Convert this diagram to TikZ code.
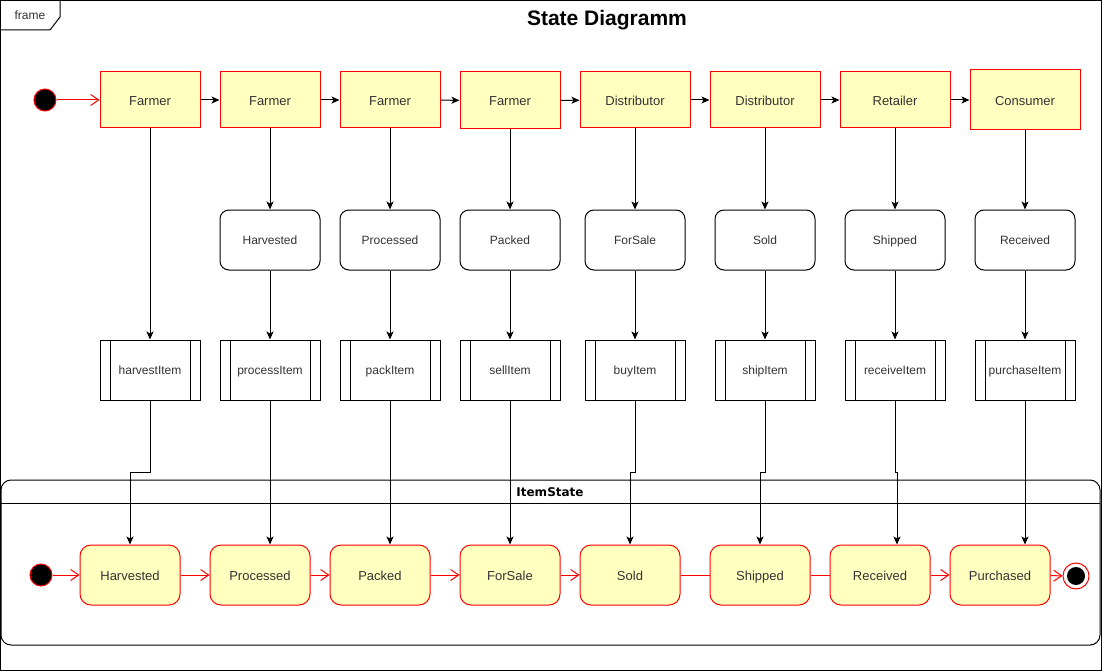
\documentclass[tikz,border=0pt]{standalone}
\usepackage{fontspec}
\setmainfont{Liberation Sans}
\newfontfamily\djv{DejaVu Sans}
\usetikzlibrary{arrows.meta,calc}
\definecolor{stfill}{HTML}{FFFFC0}
\definecolor{txt}{HTML}{333333}
\begin{document}
\begin{tikzpicture}[x=1pt,y=-1pt,line width=1pt,
  every node/.style={text=txt,font=\fontsize{12}{14}\selectfont,inner sep=0pt,text height=9.6pt,text depth=0pt},
  actor/.style={draw=red,fill=stfill,minimum width=100pt,minimum height=56pt,font=\fontsize{13}{15}\selectfont,text height=10.3pt,text depth=0pt},
  wideactor/.style={actor,minimum width=110pt},
  midstate/.style={draw=black,fill=white,rounded corners=9pt,minimum width=100pt,minimum height=60pt},
  procbox/.style={draw=black,fill=white,minimum width=100pt,minimum height=60pt,
    path picture={\draw[line width=1pt] ([xshift=10pt]path picture bounding box.north west) -- ([xshift=10pt]path picture bounding box.south west);
                  \draw[line width=1pt] ([xshift=-10pt]path picture bounding box.north east) -- ([xshift=-10pt]path picture bounding box.south east);}},
  itemstate/.style={draw=red,fill=stfill,rounded corners=11pt,minimum width=100pt,minimum height=60pt,font=\fontsize{13}{15}\selectfont,text height=10.3pt,text depth=0pt},
  startdot/.style={circle,draw=red,fill=black,minimum size=22pt,text height=,text depth=},
  blkarr/.style={draw=black,-{Stealth[length=8pt,width=7pt,inset=2pt]}},
  redarr/.style={draw=red,-{Straight Barb[length=8pt,width=11pt]}},
  redline/.style={draw=red}]
\useasboundingbox (0,0) rectangle (1102,671);
% frame
\draw (0.5,0.5) rectangle (1101,670);
\draw (0.5,30) -- (50,30) -- (60,17) -- (60,0.5);
\node (framelbl) at (30,15) {frame};
\node[text=black,font=\bfseries\fontsize{21}{24}\selectfont,text height=,text depth=] (title) at (607,20) {State Diagramm};
% container
\draw[rounded corners=10pt] (1,480) rectangle (1100,645);
\draw (1,503) -- (1100,503);
\node[text=black,font=\djv\bfseries\fontsize{12}{14}\selectfont] (itemstate) at (550,492) {ItemState};
% top row
\node[startdot] (s1) at (45,100) {};
\node[actor] (f1) at (150,100) {Farmer};
\node[actor] (f2) at (270,100) {Farmer};
\node[actor] (f3) at (390,100) {Farmer};
\node[actor,minimum height=57pt] (f4) at (510,100.5) {Farmer};
\node[wideactor] (d1) at (635,100) {Distributor};
\node[wideactor] (d2) at (765,100) {Distributor};
\node[wideactor] (rt) at (895,100) {Retailer};
\node[wideactor,minimum height=60pt] (cs) at (1025,100) {Consumer};
% middle row
\node[midstate] (mh) at (270,240) {Harvested};
\node[midstate] (mp) at (390,240) {Processed};
\node[midstate] (mk) at (510,240) {Packed};
\node[midstate] (mf) at (635,240) {ForSale};
\node[midstate] (ms) at (765,240) {Sold};
\node[midstate] (msh) at (895,240) {Shipped};
\node[midstate] (mr) at (1025,240) {Received};
% process row
\node[procbox] (hi) at (150,370) {harvestItem};
\node[procbox] (pi) at (270,370) {processItem};
\node[procbox] (ki) at (390,370) {packItem};
\node[procbox] (si) at (510,370) {sellItem};
\node[procbox] (bi) at (635,370) {buyItem};
\node[procbox] (shi) at (765,370) {shipItem};
\node[procbox] (ri) at (895,370) {receiveItem};
\node[procbox] (ui) at (1025,370) {purchaseItem};
% bottom row
\node[startdot] (s2) at (41,575) {};
\node[itemstate] (bh) at (130,575) {Harvested};
\node[itemstate] (bp) at (260,575) {Processed};
\node[itemstate] (bk) at (380,575) {Packed};
\node[itemstate] (bf) at (510,575) {ForSale};
\node[itemstate] (bs) at (630,575) {Sold};
\node[itemstate] (bsh) at (760,575) {Shipped};
\node[itemstate] (br) at (880,575) {Received};
\node[itemstate] (bpu) at (1000,575) {Purchased};
\node[circle,draw=red,fill=white,minimum size=26pt,text height=,text depth=] (endo) at (1076,576) {};
\node[circle,fill=black,minimum size=18pt,text height=,text depth=] (endi) at (endo) {};
% top row connectors
\draw[redarr] (s1) -- (f1);
\draw[blkarr] (f1) -- (f2);
\draw[blkarr] (f2) -- (f3);
\draw[blkarr] (f3) -- (f4);
\draw[blkarr] (f4) -- (d1);
\draw[blkarr] (d1) -- (d2);
\draw[blkarr] (d2) -- (rt);
\draw[blkarr] (rt) -- (cs);
% vertical connectors
\draw[blkarr] (f1) -- (hi);
\draw[blkarr] (f2) -- (mh);
\draw[blkarr] (f3) -- (mp);
\draw[blkarr] (f4) -- (mk);
\draw[blkarr] (d1) -- (mf);
\draw[blkarr] (d2) -- (ms);
\draw[blkarr] (rt) -- (msh);
\draw[blkarr] (cs) -- (mr);
\draw[blkarr] (mh) -- (pi);
\draw[blkarr] (mp) -- (ki);
\draw[blkarr] (mk) -- (si);
\draw[blkarr] (mf) -- (bi);
\draw[blkarr] (ms) -- (shi);
\draw[blkarr] (msh) -- (ri);
\draw[blkarr] (mr) -- (ui);
% process to item states
\draw[blkarr] (hi.south) -- ++(0,72) -| (bh.north);
\draw[blkarr] (pi.south) -- (pi.south |- bp.north);
\draw[blkarr] (ki.south) -- (ki.south |- bk.north);
\draw[blkarr] (si.south) -- (bf.north);
\draw[blkarr] (bi.south) -- ++(0,72) -| (bs.north);
\draw[blkarr] (shi.south) -- ++(0,72) -| (bsh.north);
\draw[blkarr] (ri.south) -- ++(0,72) -| ([xshift=2pt]br.north -| ri.south);
\draw[blkarr] (ui.south) -- (ui.south |- bpu.north);
% bottom row connectors
\draw[redarr] (s2) -- (bh);
\draw[redarr] (bh) -- (bp);
\draw[redarr] (bp) -- (bk);
\draw[redarr] (bk) -- (bf);
\draw[redarr] (bf) -- (bs);
\draw[redline] (bs) -- (bsh);
\draw[redline] (bsh) -- (br);
\draw[redarr] (br) -- (bpu);
\draw[redarr] (bpu) -- (endo);
\end{tikzpicture}
\end{document}
